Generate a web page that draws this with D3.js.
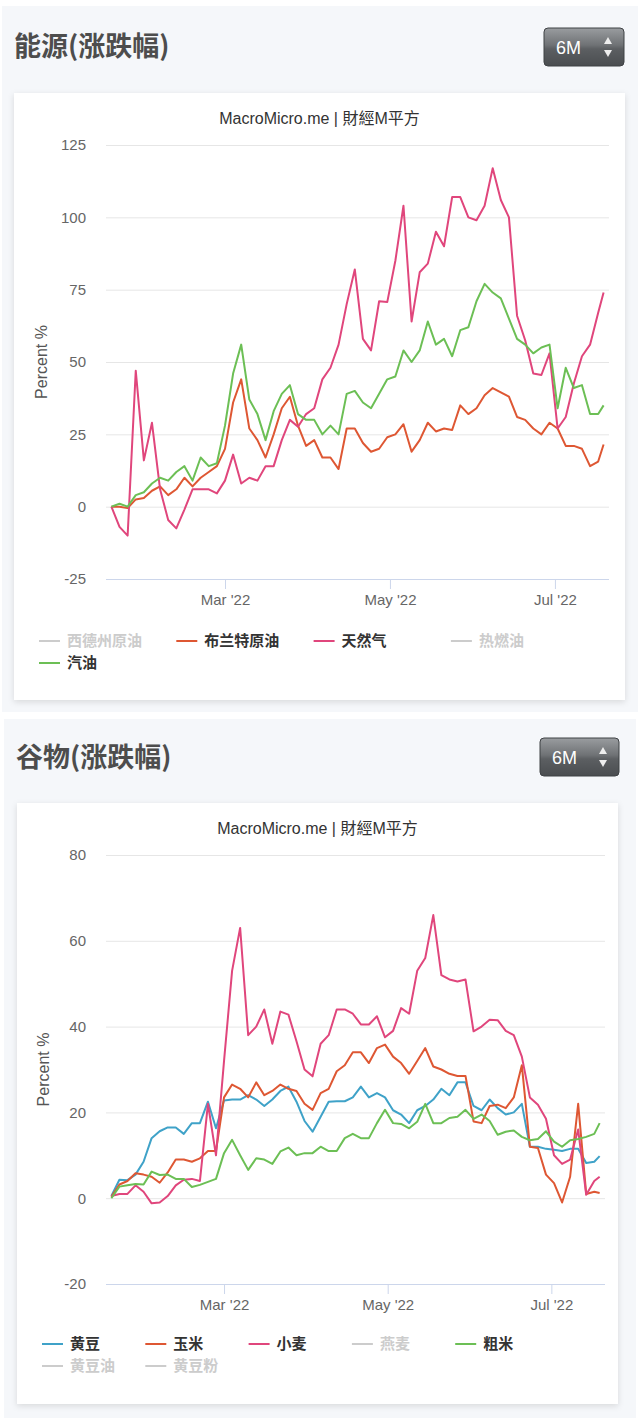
<!DOCTYPE html>
<html><head><meta charset="utf-8">
<script src="https://cdn.jsdelivr.net/npm/d3@7"></script>
<style>
body{margin:0;background:#fff;}
svg{display:block;font-family:"Liberation Sans","Noto Sans CJK SC",sans-serif;}
</style>
</head><body>
<svg id="c" width="640" height="1422"></svg>
<script>
// ---------- data ----------
const dates = ["2022-01-18","2022-01-21","2022-01-24","2022-01-27","2022-01-30","2022-02-02","2022-02-05","2022-02-08","2022-02-11","2022-02-14",
"2022-02-17","2022-02-20","2022-02-23","2022-02-26","2022-03-01","2022-03-04","2022-03-07","2022-03-10","2022-03-13","2022-03-16",
"2022-03-19","2022-03-22","2022-03-25","2022-03-28","2022-03-31","2022-04-03","2022-04-06","2022-04-09","2022-04-12","2022-04-15",
"2022-04-18","2022-04-21","2022-04-24","2022-04-27","2022-04-30","2022-05-03","2022-05-06","2022-05-09","2022-05-12","2022-05-15",
"2022-05-18","2022-05-21","2022-05-24","2022-05-27","2022-05-30","2022-06-02","2022-06-05","2022-06-08","2022-06-11","2022-06-14",
"2022-06-17","2022-06-20","2022-06-23","2022-06-26","2022-06-29","2022-07-02","2022-07-05","2022-07-08","2022-07-11","2022-07-14",
"2022-07-17","2022-07-19"];

// energy (% change)
const brentOil = [0,0,-0.5,2.5,3,5.5,7,4,6,10, 7,10,12,14,20,36,44,27,23,17, 25,34,38,28,21,23,17,17,13,27,
  27,22,19,20,24,25,28.5,19,23,29, 26,27,26.5,35,32,34,38.5,41,39.5,38, 31,30,27,25,29,27,21,21,20,14, 15.6,21.5];
const naturalGas = [0,-7,-10,47,16,29,6,-4.6,-7.5,-1, 6,6,6,4.6,9,18,8,10,9,14, 14,23,30,27.6,32,34,44,48,56,70,
  82,58,54,71,70.7,85,104,64,81,84, 95,90,107,107,100,99,104,117,106,100, 66,57.5,46,45.5,53,27,31,42.6,52,56, 67,74];
const gasoline = [0,1,0,4,5,8,10,9,12,14, 9,17,14,15,28,46,56,37,32,23, 33,39,42,32,30,30,25,28,25,39,
  40,36,34,39,44,45,54,50,54,64, 56,58,52,61,62,71,77,74,72,65, 58,56,53,55,56,34,48,41,42,32, 32,35];

// grains (% change)
const soybean = [0.5,4.3,4.2,5.5,8.5,14,15.6,16.5,16.5,15, 17.5,17.5,22.5,16.3,22.8,23,23,24,23,21.5, 23,25,26,22.5,18,15.5,19,22.5,22.6,22.6,
  23.5,26,23.5,24.5,23.5,20.5,19.5,17.5,20.5,21.5, 23,25.5,24,27,27,21.5,20.5,23,21,19.5, 20,22,12,12,11.5,11.3,11,11.5,11.5,8.2, 8.5,9.8];
const corn = [0.3,3.2,4,5.8,5.5,5,3.6,6,9,9, 8.5,9.3,11,11,23.5,26.5,25.5,23.5,27,24, 25,26.5,25.5,25,22,20.6,24.5,25.5,29.6,31,
  34,34,31.5,35,35.8,33,31.5,29,32,35, 30.7,30,29,28.5,28.5,17.9,17.5,21.5,21.8,21, 23.5,31,12,11.7,5.5,3.5,-1,5,22,1, 1.5,1.2];
const wheat = [0.5,1,1,3,1.5,-1.2,-1,0.5,3,4.3, 4.5,4,22,10,32,53,63,38,40,44, 36,43.5,42.8,36.6,30,28.4,36,38,44,44,
  43,40.5,40.5,42.4,37.5,39,44.3,43,53,56, 66,52,51,50.5,51,38.9,40,41.6,41.5,39, 38,33,23.5,21.8,18.5,10,8,9,16,0.8, 4,5];
const roughRice = [0,2.7,3,3.3,3.2,6.2,5.4,5.5,4.5,4.5, 2.6,3.1,3.8,4.5,10.5,13.6,10,6.6,9.3,9, 8,10.9,11.8,10,10.5,10.5,12,11,11,14,
  15,14,14,17.5,20.6,17.5,17.3,16.3,17.8,22, 17.5,17.5,18.7,19,20.6,18.5,19.5,18,14.8,15.5, 15.8,14.3,13.5,13.8,15.6,13.2,12,13.5,13.8,14.3, 15,17.5];

const energyNames = ["西德州原油","布兰特原油","天然气","热燃油","汽油"];
const energyValues = [null, brentOil, naturalGas, null, gasoline];
const grainNames = ["黄豆","玉米","小麦","燕麦","粗米","黄豆油","黄豆粉"];
const grainValues = [soybean, corn, wheat, null, roughRice, null, null];

const yTicksEnergy = [-25,0,25,50,75,100,125];
const yTicksGrain = [-20,0,20,40,60,80];
const xTickDates = ["2022-03-01","2022-05-01","2022-07-01"];
const xDomain = ["2022-01-16","2022-07-21"];
const chartCredit = "MacroMicro.me | 財經M平方";
const rangeLabel = "6M";
const yAxisTitle = "Percent %";

// ---------- styles ----------
const ORANGE = "#de5733", PINK = "#e0467c", GREEN = "#6cbf55", BLUE = "#3fa2c8", HIDDEN = "#cccccc";
const energyColors = [HIDDEN, ORANGE, PINK, HIDDEN, GREEN];
const grainColors = [BLUE, ORANGE, PINK, HIDDEN, GREEN, HIDDEN, HIDDEN];

const parse = d3.timeParse("%Y-%m-%d");
const svg = d3.select("#c");
const defs = svg.append("defs");
const g1 = defs.append("linearGradient").attr("id","btn").attr("x1",0).attr("y1",0).attr("x2",0).attr("y2",1);
g1.append("stop").attr("offset","0%").attr("stop-color","#9a9da0");
g1.append("stop").attr("offset","45%").attr("stop-color","#6f7275");
g1.append("stop").attr("offset","55%").attr("stop-color","#5c5f62");
g1.append("stop").attr("offset","100%").attr("stop-color","#4a4d50");
const f = defs.append("filter").attr("id","sh").attr("x","-5%").attr("y","-5%").attr("width","110%").attr("height","110%");
f.append("feDropShadow").attr("dx",0).attr("dy",2).attr("stdDeviation",3).attr("flood-color","#000").attr("flood-opacity",0.12);

function drawPanel(o){
  const root = svg.append("g");
  root.append("rect").attr("x",o.panel[0]).attr("y",o.panel[1]).attr("width",o.panel[2]).attr("height",o.panel[3]).attr("fill","#f5f7fa");
  root.append("text").attr("x",o.titleX).attr("y",o.titleY).attr("font-size",27).attr("font-weight","bold")
    .attr("fill","#4d4d4d").attr("font-family","'Noto Sans CJK SC',sans-serif").text(o.title);
  // button
  const b = o.btn;
  root.append("rect").attr("x",b[0]).attr("y",b[1]).attr("width",b[2]).attr("height",b[3]).attr("rx",4)
    .attr("fill","url(#btn)").attr("stroke","#3f4245").attr("stroke-width",1);
  root.append("text").attr("x",b[0]+12).attr("y",b[1]+26).attr("font-size",18).attr("fill","#fff").text(rangeLabel);
  const ax = b[0]+b[2]-16, ay = b[1]+b[3]/2;
  root.append("path").attr("d",`M${ax-4},${ay-3}L${ax+4},${ay-3}L${ax},${ay-10}Z`).attr("fill","#eee");
  root.append("path").attr("d",`M${ax-4},${ay+3}L${ax+4},${ay+3}L${ax},${ay+10}Z`).attr("fill","#eee");
  // card
  const c = o.card;
  root.append("rect").attr("x",c[0]).attr("y",c[1]).attr("width",c[2]).attr("height",c[3]).attr("fill","#fff").attr("filter","url(#sh)");
  root.append("text").attr("x",c[0]+c[2]/2).attr("y",o.creditY).attr("text-anchor","middle").attr("font-size",16).attr("fill","#333").text(chartCredit);

  const x = d3.scaleTime().domain(xDomain.map(parse)).range([o.plot[0], o.plot[1]]);
  const y = d3.scaleLinear().domain([o.yTicks[0], o.yTicks[o.yTicks.length-1]]).range([o.plot[3], o.plot[2]]);

  const ya = root.append("g").attr("transform",`translate(${o.plot[0]},0)`)
    .call(d3.axisLeft(y).tickValues(o.yTicks).tickSize(-(o.plot[1]-o.plot[0])).tickPadding(20).tickFormat(d => String(d)));
  ya.select(".domain").remove();
  ya.selectAll(".tick line").attr("stroke","#e6e6e6");
  ya.selectAll(".tick text").attr("font-size",15).attr("fill","#666").attr("font-family","'Liberation Sans',sans-serif");

  const xa = root.append("g").attr("transform",`translate(0,${o.plot[3]})`)
    .call(d3.axisBottom(x).tickValues(xTickDates.map(parse)).tickSize(10).tickPadding(5).tickFormat(d3.timeFormat("%b '%y")));
  xa.select(".domain").attr("stroke","#ccd6eb").attr("d",`M${o.plot[0]},0.5H${o.plot[1]}`);
  xa.selectAll(".tick line").attr("stroke","#ccd6eb");
  xa.selectAll(".tick text").attr("font-size",15).attr("fill","#666").attr("font-family","'Liberation Sans',sans-serif");

  root.append("text").attr("transform",`translate(${o.yTitleX},${(o.plot[2]+o.plot[3])/2}) rotate(-90)`)
    .attr("text-anchor","middle").attr("font-size",16).attr("fill","#555").text(yAxisTitle);

  const line = d3.line().x(d=>x(d[0])).y(d=>y(d[1]));
  const pd = dates.map(parse);
  o.values.forEach((vals,i)=>{
    if(!vals) return;
    root.append("path").datum(vals.map((v,j)=>[pd[j],v])).attr("d",line)
      .attr("fill","none").attr("stroke",o.colors[i]).attr("stroke-width",2).attr("stroke-linejoin","round");
  });

  // legend
  o.names.forEach((n,i)=>{
    const row = Math.floor(i/o.perRow), col = i%o.perRow;
    const lx = o.legX + col*o.legW, ly = o.legY + row*o.legRowH;
    const on = !!o.values[i];
    root.append("line").attr("x1",lx).attr("x2",lx+21).attr("y1",ly).attr("y2",ly)
      .attr("stroke",o.colors[i]).attr("stroke-width",2);
    root.append("text").attr("x",lx+28).attr("y",ly+5).attr("font-size",15).attr("font-weight","bold")
      .attr("fill",on?"#333":HIDDEN).attr("font-family","'Noto Sans CJK SC',sans-serif").text(n);
  });
}

drawPanel({
  panel:[2,6,636,706], title:"能源(涨跌幅)", titleX:14, titleY:56,
  btn:[544,28,80,38], card:[14,93,611,607], creditY:124,
  plot:[106,609,145,579], yTicks:yTicksEnergy, yTitleX:47,
  names:energyNames, values:energyValues, colors:energyColors,
  perRow:4, legX:39, legW:137.3, legY:641, legRowH:22
});
drawPanel({
  panel:[4,719,632,699], title:"谷物(涨跌幅)", titleX:16, titleY:767,
  btn:[540,738,79,38], card:[17,803,601,601], creditY:834,
  plot:[106,605,855,1284], yTicks:yTicksGrain, yTitleX:49,
  names:grainNames, values:grainValues, colors:grainColors,
  perRow:5, legX:42, legW:103.3, legY:1344, legRowH:22
});
</script>
</body></html>
